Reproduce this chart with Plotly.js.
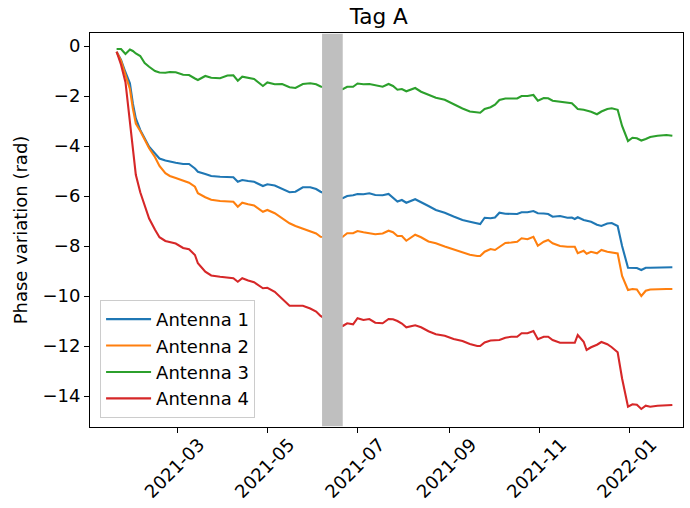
<!DOCTYPE html>
<html>
<head>
<meta charset="utf-8">
<script src="https://cdn.plot.ly/plotly-3.0.1.min.js"></script>
<style>html,body{margin:0;padding:0;background:#fff;}#chart{width:690px;height:508px;}</style>
</head>
<body>
<div id="chart"></div>
<script>
// Sampling dates, as day offsets from 2021-01-01
const startDate = '2021-01-01';
const dayOffsets = [18,21,24,27,29,31,34,37,40,44,47,51,54,58,63,67,71,73,78,82,
  88,93,97,100,103,107,111,117,120,125,130,135,139,144,149,153,156,163,171,174,
  178,181,185,189,193,198,202,205,208,211,214,220,224,229,234,240,246,252,257,262,
  264,267,271,274,277,281,285,289,292,296,300,303,307,310,313,318,323,326,328,330,
  334,336,339,343,346,350,353,357,360,364,367,370,373,376,379,384,390,394];

const seriesNames = ['Antenna 1','Antenna 2','Antenna 3','Antenna 4'];

const antenna1 = [-0.23,-0.56,-1.05,-1.49,-2.3,-2.9,-3.36,-3.69,-4.03,-4.3,-4.5,-4.58,-4.63,-4.67,-4.72,-4.72,-4.9,-5.03,-5.12,-5.2,
  -5.23,-5.24,-5.25,-5.43,-5.36,-5.4,-5.43,-5.6,-5.53,-5.58,-5.7,-5.85,-5.83,-5.65,-5.65,-5.72,-5.83,-6.0,-6.09,-6.0,
  -5.97,-5.92,-5.93,-5.89,-5.96,-5.97,-5.92,-6.09,-6.22,-6.16,-6.27,-6.13,-6.24,-6.4,-6.56,-6.67,-6.82,-6.96,-7.03,-7.08,
  -7.12,-6.87,-6.89,-6.86,-6.67,-6.71,-6.72,-6.72,-6.65,-6.65,-6.6,-6.69,-6.7,-6.72,-6.83,-6.8,-6.87,-6.86,-6.92,-6.85,
  -6.96,-6.99,-7.03,-7.15,-7.2,-7.1,-7.08,-7.2,-8.0,-8.87,-8.87,-8.88,-8.96,-8.87,-8.87,-8.86,-8.86,-8.85];

const antenna2 = [-0.23,-0.6,-1.16,-1.72,-2.5,-3.1,-3.4,-3.76,-4.09,-4.45,-4.8,-5.09,-5.2,-5.28,-5.39,-5.47,-5.63,-5.89,-6.05,-6.15,
  -6.2,-6.21,-6.23,-6.43,-6.27,-6.33,-6.38,-6.63,-6.56,-6.69,-6.88,-7.09,-7.2,-7.3,-7.4,-7.5,-7.63,-7.65,-7.63,-7.49,
  -7.49,-7.4,-7.45,-7.5,-7.53,-7.5,-7.39,-7.45,-7.6,-7.6,-7.79,-7.55,-7.65,-7.82,-7.89,-8.02,-8.13,-8.26,-8.35,-8.4,
  -8.4,-8.23,-8.12,-8.16,-8.03,-7.88,-7.86,-7.83,-7.69,-7.73,-7.63,-7.99,-7.83,-7.76,-7.89,-8.0,-8.03,-8.03,-8.03,-8.29,
  -8.19,-8.31,-8.23,-8.29,-8.16,-8.23,-8.25,-8.3,-9.2,-9.76,-9.72,-9.74,-10.0,-9.79,-9.74,-9.72,-9.72,-9.72];

const antenna3 = [-0.12,-0.12,-0.32,-0.14,-0.2,-0.3,-0.4,-0.68,-0.83,-1.0,-1.06,-1.07,-1.04,-1.05,-1.15,-1.16,-1.3,-1.36,-1.2,-1.27,
  -1.29,-1.18,-1.17,-1.39,-1.23,-1.28,-1.32,-1.6,-1.46,-1.53,-1.52,-1.65,-1.68,-1.52,-1.49,-1.53,-1.62,-1.7,-1.73,-1.63,
  -1.63,-1.5,-1.53,-1.52,-1.58,-1.63,-1.52,-1.6,-1.75,-1.72,-1.81,-1.68,-1.83,-1.95,-2.07,-2.15,-2.34,-2.5,-2.62,-2.67,
  -2.67,-2.52,-2.45,-2.35,-2.16,-2.1,-2.1,-2.1,-2.0,-2.0,-1.96,-2.19,-2.08,-2.09,-2.19,-2.23,-2.27,-2.29,-2.4,-2.52,
  -2.55,-2.58,-2.63,-2.73,-2.62,-2.52,-2.49,-2.55,-3.2,-3.8,-3.67,-3.69,-3.78,-3.72,-3.64,-3.59,-3.56,-3.59];

const antenna4 = [-0.23,-0.75,-1.45,-3.0,-4.2,-5.15,-5.85,-6.4,-6.9,-7.35,-7.65,-7.8,-7.83,-7.9,-8.08,-8.13,-8.36,-8.69,-9.03,-9.18,
  -9.23,-9.25,-9.29,-9.43,-9.29,-9.38,-9.45,-9.69,-9.67,-9.83,-10.1,-10.39,-10.39,-10.39,-10.5,-10.62,-10.8,-11.05,-11.2,-11.09,
  -11.13,-10.89,-10.96,-10.92,-11.07,-11.09,-10.92,-10.93,-11.0,-11.1,-11.25,-11.17,-11.25,-11.41,-11.53,-11.59,-11.72,-11.8,-11.92,-12.0,
  -12.0,-11.86,-11.78,-11.76,-11.76,-11.67,-11.63,-11.63,-11.49,-11.49,-11.4,-11.73,-11.63,-11.63,-11.76,-11.87,-11.86,-11.87,-11.87,-11.56,
  -11.83,-12.16,-12.05,-11.95,-11.84,-11.93,-12.05,-12.25,-13.3,-14.43,-14.33,-14.35,-14.52,-14.39,-14.43,-14.39,-14.37,-14.36];

const tickDates = ['2021-03-01','2021-05-01','2021-07-01','2021-09-01','2021-11-01','2022-01-01'];
const tickLabels = ['2021-03','2021-05','2021-07','2021-09','2021-11','2022-01'];
const yTicks = [0,-2,-4,-6,-8,-10,-12,-14];
const gapStart = '2021-06-07';
const gapEnd = '2021-06-21';

const colors = ['#1f77b4','#ff7f0e','#2ca02c','#d62728'];

const base = new Date(startDate + 'T00:00:00Z').getTime();
const xDates = dayOffsets.map(d => new Date(base + d*86400000).toISOString().slice(0,10));

const values = [antenna1, antenna2, antenna3, antenna4];
const traces = values.map((v,i) => ({
  x: xDates, y: v, type: 'scatter', mode: 'lines', name: seriesNames[i],
  line: {color: colors[i], width: 2.1}
}));

const font = 'DejaVu Sans, sans-serif';
const fs = 18;
const layout = {
  width: 690, height: 508,
  margin: {l: 90, r: 7, t: 33, b: 81},
  paper_bgcolor: '#fff', plot_bgcolor: '#fff',
  font: {family: font, size: fs, color: '#000'},
  title: {text: 'Tag A', font: {family: font, size: 21.6, color: '#000'},
    xref: 'paper', x: 0.487, xanchor: 'center', yref: 'container', y: 0.968, yanchor: 'middle'},
  showlegend: true,
  legend: {x: 0.017, y: 0.023, xanchor: 'left', yanchor: 'bottom',
    bgcolor: 'rgba(255,255,255,0.8)', bordercolor: '#cccccc', borderwidth: 1,
    font: {family: font, size: fs, color: '#000'}, itemwidth: 45, traceorder: 'normal'},
  xaxis: {
    type: 'date', range: ['2021-01-01', '2022-02-06 05:00'],
    tickmode: 'array', tickvals: tickDates, ticktext: tickLabels, tickangle: -45,
    ticklabelshift: 22, ticklabelstandoff: -6,
    showgrid: false, zeroline: false, showline: true, mirror: true, linecolor: '#000', linewidth: 1,
    ticks: 'outside', ticklen: 5, tickwidth: 1, tickcolor: '#000',
    tickfont: {family: font, size: fs, color: '#000'}
  },
  yaxis: {
    range: [-15.24, 0.52], tickmode: 'array', tickvals: yTicks,
    showgrid: false, zeroline: false, showline: true, mirror: true, linecolor: '#000', linewidth: 1,
    ticks: 'outside', ticklen: 5, tickwidth: 1, tickcolor: '#000',
    tickfont: {family: font, size: fs, color: '#000'},
    title: {text: 'Phase variation (rad)', font: {family: font, size: fs, color: '#000'}, standoff: 10}
  },
  shapes: [{type: 'rect', xref: 'x', yref: 'paper', x0: gapStart, x1: gapEnd, y0: 0.002, y1: 0.998,
    fillcolor: '#bfbfbf', line: {width: 0}, layer: 'above'}]
};

Plotly.newPlot('chart', traces, layout, {displayModeBar: false, staticPlot: true});
</script>
</body>
</html>
